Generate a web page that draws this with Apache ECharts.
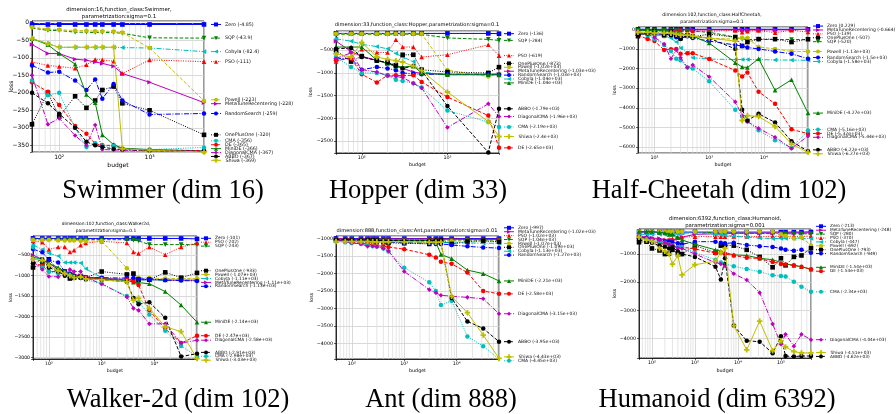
<!DOCTYPE html>
<html><head><meta charset="utf-8">
<script src="https://cdn.jsdelivr.net/npm/echarts@6/dist/echarts.min.js"></script>
<style>html,body{margin:0;padding:0;background:#fff}#c{width:896px;height:414px}</style>
</head><body><div id="c"></div>
<script>
// ---------------- DATA ----------------
const methods = ['Zero','MetaTuneRecentering','SQP','PSO','Cobyla','Powell','OnePlusOne','RandomSearch','MiniDE','DE','CMA','DiagonalCMA','ABBO','Shiwa'];

const swimmerBudgets = [50,75,100,150,200,250,300,400,500,1000,4000];
const swimmerLoss = {
  Zero:[-5,-5,-5,-5,-5,-5,-5,-5,-5,-5,-4.85],
  MetaTuneRecentering:[-62,-88,-88,-104,-107,-112,-116,-124,-145,-170,-228],
  SQP:[-15,-22,-22,-27,-27,-28,-28,-28,-30,-43,-43.9],
  PSO:[-112,-122,-125,-130,-120,-105,-106,-110,-145,-106,-111],
  Cobyla:[-45,-60,-70,-70,-70,-70,-70,-70,-71,-72,-82.4],
  Powell:[-13,-18,-20,-22,-23,-24,-24,-25,-28,-72,-223],
  OnePlusOne:[-290,-200,-268,-210,-243,-222,-192,-182,-230,-250,-320],
  RandomSearch:[-122,-142,-140,-165,-192,-162,-217,-175,-222,-262,-259],
  MiniDE:[-45,-63,-88,-118,-205,-228,-320,-348,-358,-362,-366],
  DE:[-170,-197,-235,-295,-317,-345,-350,-350,-360,-363,-365],
  CMA:[-165,-207,-200,-300,-355,-345,-352,-352,-360,-362,-356],
  DiagonalCMA:[-150,-290,-273,-322,-350,-292,-362,-363,-364,-365,-366.8],
  ABBO:[-200,-230,-260,-300,-340,-350,-355,-360,-362,-365,-367.2],
  Shiwa:[-45,-60,-70,-70,-70,-70,-70,-70,-360,-364,-369]
};

const hopperBudgets = [50,75,100,150,200,250,300,400,500,1000,3000,4000];
const hopperLoss = {
  Zero:[-130,-130,-130,-130,-130,-130,-130,-130,-130,-130,-130,-136],
  MetaTuneRecentering:[-300,-530,-640,-720,-800,-850,-900,-980,-1010,-1030,-1030,-1028],
  SQP:[-150,-150,-150,-150,-150,-150,-150,-150,-150,-230,-262,-284],
  PSO:[-750,-650,-480,-550,-550,-270,-430,-430,-650,-600,-380,-619],
  Cobyla:[-250,-300,-370,-420,-470,-570,-650,-750,-980,-1040,-1040,-1038],
  Powell:[-140,-140,-140,-140,-140,-140,-140,-140,-140,-940,-1080,-1020],
  OnePlusOne:[-500,-750,-630,-730,-770,-830,-600,-600,-930,-980,-1000,-873],
  RandomSearch:[-680,-680,-930,-870,-900,-940,-1000,-1020,-1030,-1030,-1030,-1032],
  MiniDE:[-430,-430,-430,-720,-790,-850,-870,-850,-1000,-1040,-1040,-1042],
  DE:[-720,-680,-1030,-1210,-1050,-1050,-1060,-1050,-1200,-1530,-1940,-2650],
  CMA:[-650,-870,-1000,-1000,-1060,-1150,-1180,-1230,-1320,-1830,-2080,-2190],
  DiagonalCMA:[-680,-560,-930,-980,-1060,-1080,-1100,-1230,-1330,-2200,-1680,-1960],
  ABBO:[-470,-450,-650,-730,-770,-850,-900,-850,-950,-1730,-2750,-1790],
  Shiwa:[-580,-650,-330,-650,-700,-730,-760,-850,-950,-1420,-2070,-2400]
};

const midBudgets = [50,75,100,150,200,250,300,400,500,1000,3000,4000,5000,8000,16000,32000,64000];
const cheetahLoss = {
  Zero:[0,0,0,0,0,0,0,0,0,0,0,0,0,0,0,0,0.229],
  MetaTuneRecentering:[-30,-30,-30,-30,-30,-30,-30,-30,-30,-30,-30,-30,-30,-30,-30,-30,-0.664],
  PSO:[-100,-50,-80,-150,-60,-100,-50,-120,-80,-100,-60,-150,-100,-60,-170,-50,-139],
  OnePlusOne:[-350,-150,-100,-300,-120,-330,-450,-320,-380,-250,-400,-850,-650,-500,-500,-650,-507],
  SQP:[-50,-50,-50,-50,-60,-60,-80,-80,-100,-150,-400,-500,-520,-520,-520,-520,-520],
  Powell:[-250,-250,-250,-350,-250,-300,-300,-250,-400,-450,-500,-450,-450,-900,-1000,-1130,-1130],
  RandomSearch:[-200,-200,-230,-250,-280,-400,-450,-350,-450,-600,-800,-850,-930,-1000,-1130,-1250,-1500],
  Cobyla:[-250,-230,-300,-330,-450,-650,-950,-1200,-1450,-1520,-1540,-1540,-1540,-1540,-1560,-1570,-1580],
  MiniDE:[-50,-50,-60,-80,-100,-150,-200,-300,-350,-700,-1700,-1920,-1950,-1500,-3100,-2570,-4270],
  DE:[-300,-500,-600,-1050,-1020,-1000,-1250,-1220,-1220,-1520,-2100,-2400,-2200,-3180,-3800,-5100,-5320],
  CMA:[-200,-300,-500,-800,-1100,-1500,-1580,-1950,-2000,-2650,-4100,-4450,-4700,-5150,-5650,-6050,-5160],
  DiagonalCMA:[-200,-250,-400,-750,-1500,-1050,-1450,-1950,-1820,-2420,-3700,-4400,-4700,-5050,-5500,-6070,-5440],
  ABBO:[-300,-200,-200,-250,-300,-300,-500,-300,-350,-450,-1000,-4100,-4650,-4300,-4750,-5700,-6220],
  Shiwa:[-150,-150,-200,-200,-200,-250,-300,-300,-350,-450,-600,-4650,-4400,-4450,-4950,-5850,-6270]
};

const walkerLoss = {
  Zero:[-90,-90,-90,-90,-90,-90,-90,-90,-90,-90,-90,-90,-90,-90,-90,-90,-101],
  PSO:[-150,-180,-360,-300,-300,-420,-380,-255,-200,-160,-200,-420,-460,-300,-490,-300,-202],
  SQP:[-110,-110,-110,-110,-110,-110,-110,-110,-110,-120,-120,-130,-150,-240,-240,-240,-243],
  OnePlusOne:[-800,-720,-600,-870,-900,-1070,-1050,-1030,-1050,-900,-970,-950,-1100,-1100,-920,-1050,-933],
  Powell:[-130,-130,-130,-140,-140,-140,-140,-150,-150,-150,-820,-950,-1050,-1060,-1070,-1070,-1070],
  Cobyla:[-250,-360,-450,-520,-680,-680,-680,-690,-830,-1050,-1100,-1100,-1100,-1110,-1110,-1110,-1108],
  MetaTuneRecentering:[-500,-600,-700,-850,-900,-950,-970,-1000,-1030,-1070,-1090,-1100,-1100,-1100,-1110,-1110,-1112],
  RandomSearch:[-350,-430,-620,-680,-900,-950,-1000,-1000,-1050,-1050,-1060,-1060,-1080,-1080,-1110,-1120,-1130],
  MiniDE:[-550,-600,-700,-800,-900,-950,-1000,-1030,-1050,-1080,-1120,-1160,-1170,-1200,-1390,-1720,-2140],
  DE:[-700,-750,-900,-900,-950,-1000,-1050,-1050,-1060,-1080,-1100,-1150,-1230,-1850,-2300,-2650,-2470],
  DiagonalCMA:[-650,-850,-1020,-1030,-950,-850,-900,-900,-1050,-1200,-1520,-1800,-1850,-2180,-2180,-2650,-2580],
  ABBO:[-700,-600,-800,-900,-1000,-1050,-1050,-1060,-1080,-1100,-1150,-1550,-1700,-1650,-2030,-2980,-2910],
  CMA:[-300,-800,-900,-950,-950,-1000,-1050,-1050,-1100,-1200,-1500,-1550,-1650,-1950,-2350,-2720,-2980],
  Shiwa:[-600,-620,-750,-880,-950,-1000,-1050,-1030,-1080,-1100,-1150,-1600,-1550,-1800,-2250,-2370,-3030]
};

const antLoss = {
  Zero:[-997,-997,-997,-997,-997,-997,-997,-997,-997,-997,-997,-997,-997,-997,-997,-997,-997],
  MetaTuneRecentering:[-1000,-1000,-1050,-1010,-1000,-1000,-1010,-1010,-1010,-1010,-1010,-1015,-1015,-1015,-1018,-1018,-1018],
  PSO:[-1000,-1010,-1000,-1010,-1020,-1000,-1010,-1020,-1010,-1020,-1010,-1020,-1020,-1010,-1020,-1020,-1022],
  SQP:[-1020,-1020,-1030,-1030,-1030,-1030,-1030,-1030,-1030,-1040,-1040,-1040,-1040,-1040,-1040,-1040,-1040],
  Powell:[-1050,-1050,-1050,-1060,-1060,-1060,-1060,-1060,-1060,-1060,-1070,-1070,-1070,-1070,-1070,-1070,-1070],
  OnePlusOne:[-1050,-1060,-1080,-1080,-1050,-1050,-1060,-1100,-1120,-1130,-1150,-1080,-1050,-1150,-1080,-1060,-1090],
  Cobyla:[-1050,-1060,-1080,-1080,-1090,-1090,-1100,-1100,-1100,-1100,-1100,-1100,-1100,-1120,-1120,-1130,-1130],
  RandomSearch:[-1050,-1060,-1080,-1070,-1080,-1100,-1100,-1100,-1100,-1120,-1130,-1150,-1150,-1180,-1220,-1250,-1270],
  MiniDE:[-1030,-1030,-1030,-1030,-1040,-1040,-1040,-1040,-1050,-1050,-1050,-1100,-1450,-1570,-1900,-2000,-2210],
  DE:[-1050,-1080,-1100,-1130,-1150,-1180,-1200,-1220,-1240,-1300,-1460,-1540,-1660,-1720,-1970,-2500,-2580],
  DiagonalCMA:[-1050,-1080,-1120,-1150,-1220,-1210,-1230,-1280,-1350,-1940,-2460,-2550,-2620,-2650,-2680,-2720,-3150],
  ABBO:[-1030,-1030,-1040,-1040,-1040,-1050,-1050,-1050,-1050,-1060,-1060,-1050,-1100,-2700,-3370,-3570,-3950],
  Shiwa:[-1080,-1080,-1080,-1080,-1080,-1090,-1090,-1090,-1090,-1090,-1100,-1100,-1100,-2650,-3120,-3760,-4430],
  CMA:[-1080,-1100,-1120,-1150,-1180,-1220,-1230,-1280,-1370,-1830,-2250,-2500,-2900,-2780,-3800,-4080,-4450]
};

const humanoidBudgets = [50,75,100,150,200,250,300,400,500,1000,3000,4000,5000,8000,16000,32000,64000,100000,128000,200000,300000,500000];
const humanoidLoss = {
  Zero:[-220,-220,-220,-220,-220,-220,-220,-220,-220,-220,-220,-220,-220,-220,-220,-220,-220,-220,-220,-220,-220,-213],
  MetaTuneRecentering:[-400,-420,-430,-450,-500,-520,-500,-450,-400,-300,-280,-270,-270,-260,-260,-255,-250,-250,-250,-248,-248,-248],
  SQP:[-200,-200,-200,-200,-200,-200,-200,-200,-200,-200,-250,-250,-250,-260,-260,-270,-270,-270,-280,-280,-280,-280],
  PSO:[-400,-420,-450,-480,-500,-480,-450,-420,-400,-380,-380,-380,-380,-375,-375,-375,-372,-372,-370,-370,-370,-370],
  Cobyla:[-300,-300,-300,-300,-300,-300,-300,-280,-260,-250,-300,-310,-330,-370,-400,-430,-450,-447,-447,-447,-447,-447],
  Powell:[-200,-200,-200,-200,-200,-200,-200,-200,-200,-200,-200,-200,-200,-200,-200,-200,-200,-300,-350,-450,-400,-692],
  OnePlusOne:[-580,-560,-800,-870,-1000,-980,-850,-1000,-1000,-700,-950,-700,-680,-700,-850,-1100,-1470,-1150,-1400,-1100,-1050,-793],
  RandomSearch:[-450,-430,-470,-520,-550,-560,-580,-620,-650,-560,-560,-600,-620,-600,-680,-720,-750,-800,-850,-880,-850,-949],
  MiniDE:[-200,-200,-200,-230,-250,-300,-300,-400,-500,-650,-850,-900,-950,-1030,-1050,-1150,-1200,-1300,-1350,-1400,-1450,-1538],
  DE:[-450,-500,-550,-600,-650,-650,-700,-750,-750,-820,-970,-950,-1000,-1050,-1130,-1160,-1280,-1350,-1370,-1400,-1450,-1542],
  CMA:[-450,-480,-500,-550,-600,-650,-700,-750,-750,-950,-1200,-1300,-1350,-1430,-1530,-1630,-1750,-1780,-1800,-1980,-2160,-2340],
  DiagonalCMA:[-350,-400,-450,-500,-600,-650,-700,-780,-800,-1000,-1300,-1350,-1420,-1700,-1920,-2370,-3480,-4200,-3850,-4270,-3850,-4040],
  Shiwa:[-400,-500,-550,-800,-900,-1000,-1360,-1050,-1740,-1380,-1250,-950,-800,-3540,-4400,-3380,-4430,-4080,-4300,-4460,-4510,-4510],
  ABBO:[-500,-550,-600,-700,-750,-800,-750,-900,-1000,-1100,-1450,-1900,-1150,-3540,-4080,-4110,-4520,-3920,-4620,-4640,-4620,-4620]
};

// ---------------- STYLE / LAYOUT ----------------
const PLUS = 'path://M2,0H4V2H6V4H4V6H2V4H0V2H2Z';
const DASH = [3.5,1.8], DOT = [1,1.4], DASHDOT = [5,1.5,1,1.5];
const STYLE = {
  Zero:{c:'#0000ff',t:'solid',s:'rect'},
  MetaTuneRecentering:{c:'#bf00bf',t:'solid',s:'triangle',r:-90},
  SQP:{c:'#008000',t:DASH,s:'triangle',r:180},
  PSO:{c:'#ff0000',t:DOT,s:'triangle'},
  Cobyla:{c:'#00bfbf',t:DASHDOT,s:'triangle',r:90},
  Powell:{c:'#bfbf00',t:DASH,s:'circle'},
  OnePlusOne:{c:'#000000',t:DOT,s:'rect'},
  RandomSearch:{c:'#0000ff',t:DASHDOT,s:'circle'},
  MiniDE:{c:'#008000',t:'solid',s:'triangle'},
  DE:{c:'#ff0000',t:DASH,s:'circle'},
  CMA:{c:'#00bfbf',t:DOT,s:'circle'},
  DiagonalCMA:{c:'#bf00bf',t:DASHDOT,s:'diamond'},
  ABBO:{c:'#000000',t:DASH,s:'circle'},
  Shiwa:{c:'#bfbf00',t:'solid',s:PLUS}
};

const panels = [
  {title:['dimension:16,function_class:Swimmer,','parametrization:sigma=0.1'],tx:119,ty:[10,16.6],tfs:5.4,
   caption:'Swimmer (dim 16)',cx:163,cy:191,left:32,top:21,width:172,height:131,ymin:-369,ymax:5,split:8,step:50,
   xmin:50,xmax:4000,budgets:swimmerBudgets,loss:swimmerLoss,lossX:11,budgetY:165,fs:6,lfs:4.8,lgOff:7},
  {title:['dimension:33,function_class:Hopper,parametrization:sigma=0.1'],tx:417,ty:[25],tfs:5.1,
   caption:'Hopper (dim 33)',cx:418,cy:191,left:336,top:31,width:163,height:122,ymin:-2763,ymax:-77,split:6,step:500,
   xmin:50,xmax:4000,budgets:hopperBudgets,loss:hopperLoss,lossX:311,budgetY:165,fs:4.8,lfs:4.5,lgOff:5},
  {title:['dimension:102,function_class:HalfCheetah,','parametrization:sigma=0.1'],tx:712,ty:[14.7,21.5],tfs:4.6,
   caption:'Half-Cheetah (dim 102)',cx:719,cy:191,left:638,top:27,width:170,height:126,ymin:-6305,ymax:117,split:7,step:1000,
   xmin:50,xmax:64000,budgets:midBudgets,loss:cheetahLoss,lossX:615,budgetY:165,fs:4.8,lfs:4.5,lgOff:5},
  {title:['dimension:102,function_class:Walker2d,','parametrization:sigma=0.1'],tx:106,ty:[224.3,231],tfs:4.4,
   caption:'Walker-2d (dim 102)',cx:178,cy:400,left:33,top:236,width:164,height:123,ymin:-3040,ymax:-30,split:6,step:500,
   xmin:50,xmax:64000,budgets:midBudgets,loss:walkerLoss,lossX:11,budgetY:371,fs:4.6,lfs:4.4,lgOff:4},
  {title:['dimension:888,function_class:Ant,parametrization:sigma=0.01'],tx:417,ty:[231],tfs:5.1,
   caption:'Ant (dim 888)',cx:441,cy:400,left:336,top:236,width:163,height:123,ymin:-4446,ymax:-923,split:7,step:500,
   xmin:50,xmax:64000,budgets:midBudgets,loss:antLoss,lossX:312,budgetY:371,fs:4.8,lfs:4.5,lgOff:5},
  {title:['dimension:6392,function_class:Humanoid,','parametrization:sigma=0.001'],tx:725,ty:[219,225.5],tfs:5.3,
   caption:'Humanoid (dim 6392)',cx:717,cy:400,left:639,top:229,width:172,height:129,ymin:-4690,ymax:-110,split:5,step:1000,
   xmin:50,xmax:500000,budgets:humanoidBudgets,loss:humanoidLoss,lossX:615,budgetY:371,fs:4.8,lfs:4.3,lgOff:5}
];

const FONT = 'DejaVu Sans';
const SUP = {'0':'⁰','1':'¹','2':'²','3':'³','4':'⁴','5':'⁵','6':'⁶'};

function g3(v){
  if (v === 0) return '0';
  const a = Math.abs(v);
  let e = Math.floor(Math.log10(a));
  if (e >= 3) {
    let m = (v/Math.pow(10,e)).toFixed(2);
    if (m.indexOf('.')>=0) m = m.replace(/0+$/,'').replace(/\.$/,'');
    return m + 'e+' + String(e).padStart(2,'0');
  }
  let s = v.toPrecision(3);
  if (s.indexOf('.')>=0) s = s.replace(/0+$/,'').replace(/\.$/,'');
  return s;
}
function spread(targets, gap){
  let groups = targets.map((t,i)=>({idx:[i], c:t}));
  let changed = true;
  while(changed){
    changed = false;
    for (let i=0;i<groups.length-1;i++){
      const a=groups[i], b=groups[i+1];
      const aEnd = a.c + (a.idx.length-1)/2*gap;
      const bStart = b.c - (b.idx.length-1)/2*gap;
      if (bStart - aEnd < gap - 1e-9){
        const idx = a.idx.concat(b.idx);
        const c = idx.reduce((s,k)=>s+targets[k],0)/idx.length;
        groups.splice(i,2,{idx,c}); changed = true; break;
      }
    }
  }
  const pos=[];
  groups.forEach(g=>g.idx.forEach((k,j)=>{pos[k]=g.c+(j-(g.idx.length-1)/2)*gap;}));
  return pos;
}

const grids=[], xAxes=[], yAxes=[], series=[], graphics=[];
panels.forEach((p,pi)=>{
  const gi = grids.length;
  grids.push({left:p.left, top:p.top, width:p.width, height:p.height, show:true, borderColor:'#000', borderWidth:0.8, backgroundColor:'rgba(0,0,0,0)'});
  xAxes.push({type:'log', logBase:10, gridIndex:gi, min:p.xmin, max:p.xmax,
    axisLine:{show:true, lineStyle:{color:'#000', width:0.8}},
    axisTick:{show:true, length:2, lineStyle:{color:'#000', width:0.6}},
    axisLabel:{interval:0, fontSize:p.fs, color:'#000', fontFamily:FONT, margin:2.5,
      formatter:v=>{const l=Math.log10(v); const r=Math.round(l); return Math.abs(l-r)<1e-6 ? '10'+String(r).split('').map(ch=>SUP[ch]).join('') : '';}},
    splitLine:{show:true, lineStyle:{color:'#cfcfcf', width:0.8}}});
  yAxes.push({type:'value', gridIndex:gi, min:p.ymin, max:p.ymax, splitNumber:p.split,
    axisLine:{show:true, lineStyle:{color:'#000', width:0.8}},
    axisTick:{show:true, length:2, lineStyle:{color:'#000', width:0.6}},
    axisLabel:{interval:0, fontSize:p.fs, color:'#000', fontFamily:FONT, margin:3,
      formatter:v=>{const q=v/p.step; if (Math.abs(q-Math.round(q))>1e-6) return ''; return v<0 ? '\u2212'+Math.abs(v) : String(v);}},
    splitLine:{show:true, lineStyle:{color:'#cfcfcf', width:0.8}}});
  // minor vertical grid lines at 2..9 x 10^k (axis structure, drawn as plain segments)
  for (let k=1;k<=6;k++) for (let m=2;m<=9;m++){
    const v=m*Math.pow(10,k);
    if (v>p.xmin && v<p.xmax)
      series.push({type:'line', xAxisIndex:gi, yAxisIndex:gi, z:1, silent:true, animation:false, symbol:'none',
        data:[[v,p.ymin],[v,p.ymax]], lineStyle:{color:'#dadada', width:0.7}});
  }
  // main lines
  methods.forEach((m,mi)=>{
    const st = STYLE[m], vals = p.loss[m];
    series.push({type:'line', name:m, xAxisIndex:gi, yAxisIndex:gi, z:2+mi, animation:false, silent:true,
      data:p.budgets.map((b,j)=>[b, vals[j]]),
      symbol:st.s, symbolSize:st.s===PLUS?5.5:(st.s==='circle'?4.5:4.6), symbolRotate:st.r||0, showAllSymbol:true,
      lineStyle:{color:st.c, width:1, type:st.t}, itemStyle:{color:st.c}});
  });
  // legend entries placed at final values, spread to avoid overlap
  const lg = grids.length;
  grids.push({left:p.left+p.width+p.lgOff, top:p.top, width:10, height:p.height, show:false});
  xAxes.push({type:'value', gridIndex:lg, min:0, max:1, show:false});
  yAxes.push({type:'value', gridIndex:lg, min:p.ymin, max:p.ymax, show:false});
  const finals = methods.map(m=>({m, v:p.loss[m][p.loss[m].length-1]}));
  finals.sort((a,b)=>b.v-a.v);
  const scale = p.height/(p.ymax-p.ymin);
  const px = finals.map(f=>p.top+(p.ymax-f.v)*scale);
  const pos = spread(px, 3.9);
  finals.forEach((f,k)=>{
    const st = STYLE[f.m];
    const yv = p.ymax - (pos[k]-p.top)/scale;
    series.push({type:'line', xAxisIndex:lg, yAxisIndex:lg, clip:false, animation:false, silent:true,
      data:[{value:[0,yv],symbol:'none'},{value:[0.5,yv],symbol:st.s,
        label:{show:true, position:'right', distance:7, formatter:f.m+' ('+g3(f.v)+')', fontSize:p.lfs, fontFamily:FONT, color:'#111'}},
        {value:[1,yv],symbol:'none'}],
      symbolSize:st.s===PLUS?5:4, symbolRotate:st.r||0, showAllSymbol:true,
      lineStyle:{color:st.c, width:1, type:st.t}, itemStyle:{color:st.c}});
  });
  // texts
  p.title.forEach((t,i)=>graphics.push({type:'text', x:p.tx, y:p.ty[i], silent:true,
    style:{text:t, font:p.tfs+'px "'+FONT+'"', fill:'#000', textAlign:'center', textVerticalAlign:'middle'}}));
  graphics.push({type:'text', x:p.lossX, y:p.top+p.height/2, rotation:Math.PI/2, silent:true,
    style:{text:'loss', font:(p.fs)+'px "'+FONT+'"', fill:'#000', textAlign:'center', textVerticalAlign:'middle'}});
  graphics.push({type:'text', x:p.left+p.width/2, y:p.budgetY, silent:true,
    style:{text:'budget', font:(p.fs)+'px "'+FONT+'"', fill:'#000', textAlign:'center', textVerticalAlign:'middle'}});
  graphics.push({type:'text', x:p.cx, y:p.cy, silent:true,
    style:{text:p.caption, font:'26.5px "Liberation Serif"', fill:'#000', textAlign:'center', textVerticalAlign:'middle'}});
});

const chart = echarts.init(document.getElementById('c'), null, {renderer:'canvas'});
chart.setOption({animation:false, backgroundColor:'#fff', grid:grids, xAxis:xAxes, yAxis:yAxes, series:series, graphic:graphics});
</script></body></html>
